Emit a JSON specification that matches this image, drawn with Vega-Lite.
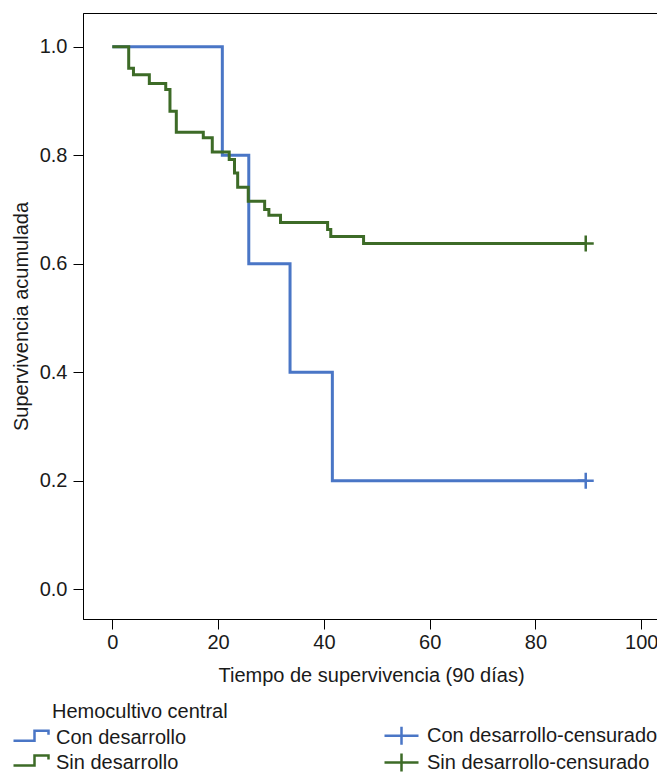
{
  "$schema": "https://vega.github.io/schema/vega-lite/v6.json",
  "width": 576,
  "height": 606,
  "autosize": {"type": "none"},
  "padding": {"left": 83, "top": 13, "right": 0, "bottom": 155},
  "background": "white",
  "config": {
    "font": "Liberation Sans",
    "view": {"stroke": "black", "strokeWidth": 1},
    "axis": {
      "labelFont": "Liberation Sans",
      "titleFont": "Liberation Sans",
      "labelFontSize": 20,
      "titleFontSize": 20,
      "titleFontWeight": "normal",
      "labelColor": "#1a1a1a",
      "titleColor": "#1a1a1a",
      "domainColor": "black",
      "tickColor": "black",
      "grid": false,
      "tickSize": 10
    }
  },
  "datasets": {
    "curves": [
      {"t": 0, "s": 1.0, "leg": "Con desarrollo"},
      {"t": 20.8, "s": 0.8, "leg": "Con desarrollo"},
      {"t": 25.8, "s": 0.6, "leg": "Con desarrollo"},
      {"t": 33.6, "s": 0.4, "leg": "Con desarrollo"},
      {"t": 41.6, "s": 0.2, "leg": "Con desarrollo"},
      {"t": 89.5, "s": 0.2, "leg": "Con desarrollo"},
      {"t": 0, "s": 1.0, "leg": "Sin desarrollo"},
      {"t": 3.1, "s": 0.96, "leg": "Sin desarrollo"},
      {"t": 4.0, "s": 0.948, "leg": "Sin desarrollo"},
      {"t": 7.0, "s": 0.932, "leg": "Sin desarrollo"},
      {"t": 10.1, "s": 0.921, "leg": "Sin desarrollo"},
      {"t": 10.9, "s": 0.881, "leg": "Sin desarrollo"},
      {"t": 12.1, "s": 0.842, "leg": "Sin desarrollo"},
      {"t": 17.2, "s": 0.832, "leg": "Sin desarrollo"},
      {"t": 18.9, "s": 0.806, "leg": "Sin desarrollo"},
      {"t": 22.1, "s": 0.792, "leg": "Sin desarrollo"},
      {"t": 23.1, "s": 0.767, "leg": "Sin desarrollo"},
      {"t": 23.7, "s": 0.741, "leg": "Sin desarrollo"},
      {"t": 25.7, "s": 0.715, "leg": "Sin desarrollo"},
      {"t": 28.8, "s": 0.7, "leg": "Sin desarrollo"},
      {"t": 29.6, "s": 0.689, "leg": "Sin desarrollo"},
      {"t": 31.8, "s": 0.676, "leg": "Sin desarrollo"},
      {"t": 40.7, "s": 0.663, "leg": "Sin desarrollo"},
      {"t": 41.3, "s": 0.65, "leg": "Sin desarrollo"},
      {"t": 47.5, "s": 0.637, "leg": "Sin desarrollo"},
      {"t": 89.5, "s": 0.637, "leg": "Sin desarrollo"}
    ],
    "censored": [
      {"t": 89.5, "s": 0.2, "leg": "Con desarrollo-censurado"},
      {"t": 89.5, "s": 0.637, "leg": "Sin desarrollo-censurado"}
    ]
  },
  "layer": [
    {
      "data": {"name": "curves"},
      "mark": {"type": "line", "interpolate": "step-after", "strokeWidth": 3},
      "encoding": {
        "x": {
          "field": "t",
          "type": "quantitative",
          "scale": {"domain": [-5.54, 103.35], "nice": false, "zero": false},
          "axis": {"values": [0, 20, 40, 60, 80, 100], "title": "Tiempo de supervivencia (90 días)", "labelPadding": 3, "titlePadding": 13}
        },
        "y": {
          "field": "s",
          "type": "quantitative",
          "scale": {"domain": [-0.055, 1.062], "nice": false, "zero": false},
          "axis": {"values": [0, 0.2, 0.4, 0.6, 0.8, 1.0], "format": ".1f", "title": "Supervivencia acumulada", "labelPadding": 6, "titlePadding": 8}
        },
        "color": {
          "field": "leg",
          "type": "nominal",
          "scale": {
            "domain": ["Con desarrollo", "Sin desarrollo", "Con desarrollo-censurado", "Sin desarrollo-censurado"],
            "range": ["#4a76c6", "#3d6b27", "#4a76c6", "#3d6b27"]
          },
          "legend": {
            "orient": "none",
            "legendX": -71,
            "legendY": 689,
            "columns": 2,
            "columnPadding": 192,
            "rowPadding": -2,
            "padding": 0,
            "title": "Hemocultivo central",
            "titleFontSize": 20,
            "titleFontWeight": "normal",
            "titleColor": "#1a1a1a",
            "titlePadding": 2,
            "labelFontSize": 20,
            "labelColor": "#1a1a1a",
            "labelOffset": 21,
            "labelLimit": 400,
            "symbolSize": 400,
            "symbolStrokeWidth": 2.5,
            "encode": {
              "symbols": {
                "update": {
                  "shape": {"signal": "indexof(datum.value, 'censurado') >= 0 ? 'M-1,0H2.4M0.7,-0.9V0.9' : 'M-1,0.3H1.1V-0.7H2.5V-0.3'"},
                  "fill": {"value": "transparent"},
                  "opacity": {"value": 1}
                }
              },
              "title": {"update": {"dx": {"value": 40}}}
            }
          }
        }
      }
    },
    {
      "data": {"name": "censored"},
      "mark": {"type": "point", "shape": "M-1,0H1M0,-1V1", "size": 256, "filled": false, "strokeWidth": 2.5, "opacity": 1},
      "encoding": {
        "x": {"field": "t", "type": "quantitative"},
        "y": {"field": "s", "type": "quantitative"},
        "color": {"field": "leg", "type": "nominal"}
      }
    }
  ]
}
